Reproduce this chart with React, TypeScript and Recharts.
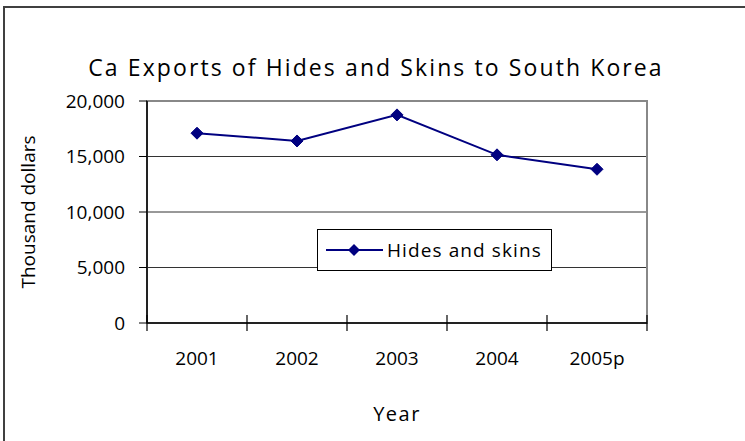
import React from "react";
import {
  LineChart,
  Line,
  XAxis,
  YAxis,
  CartesianGrid,
  ReferenceArea,
  Legend,
  Label,
} from "recharts";

const years = ["2001", "2002", "2003", "2004", "2005p"];
const hidesAndSkins = [17100, 16400, 18750, 15150, 13850];
const yTicks = [0, 5000, 10000, 15000, 20000];

const data = years.map((year, i) => ({ year, value: hidesAndSkins[i] }));

const FONT = "'Open Sans', 'DejaVu Sans', sans-serif";
const NAVY = "#000080";
const X_TICK_MARGIN = 29;
const CROSS = 8;

const Diamond = (props: any) => {
  const { cx, cy } = props;
  if (cx == null || cy == null) return null;
  const r = 6;
  return (
    <path
      d={`M${cx},${cy - r}L${cx + r},${cy}L${cx},${cy + r}L${cx - r},${cy}Z`}
      fill={NAVY}
      stroke={NAVY}
    />
  );
};

// Category label centred in its band, plus Excel-style tick marks that
// cross the axis line at the band boundaries.
const renderYearTick = (props: any) => {
  const { x, y, payload, index, visibleTicksCount } = props;
  const half = payload.offset ?? 0;
  const axisY = y - X_TICK_MARGIN;
  const left = payload.coordinate - half;
  const right = payload.coordinate + half;
  const isLast = index === (visibleTicksCount ?? years.length) - 1;
  return (
    <g key={`yt-${payload.value}`}>
      <line x1={left} x2={left} y1={axisY - CROSS} y2={axisY + CROSS} stroke="#000" strokeWidth={1.2} />
      {isLast && (
        <line x1={right} x2={right} y1={axisY - CROSS} y2={axisY + CROSS} stroke="#000" strokeWidth={1.2} />
      )}
      <text
        x={x}
        y={y}
        dy="0.71em"
        textAnchor="middle"
        fill="#000"
        fontSize={19}
        fontFamily={FONT}
      >
        {payload.value}
      </text>
    </g>
  );
};

const LegendBox = (props: any) => {
  const { payload } = props;
  return (
    <div
      style={{
        boxSizing: "border-box",
        width: 235,
        height: 42,
        border: "1px solid #000",
        background: "#fff",
        display: "flex",
        alignItems: "center",
        fontFamily: FONT,
        fontSize: 19,
        color: "#000",
      }}
    >
      {(payload || []).map((entry: any) => (
        <div key={entry.value} style={{ display: "flex", alignItems: "center" }}>
          <svg width={61} height={20} style={{ marginLeft: 8 }}>
            <line x1={0} x2={57} y1={10} y2={10} stroke={NAVY} strokeWidth={2} />
            <path d="M28,4L34,10L28,16L22,10Z" fill={NAVY} />
          </svg>
          <span style={{ letterSpacing: 1.1 }}>{entry.value}</span>
        </div>
      ))}
    </div>
  );
};

export default function App() {
  return (
    <div
      style={{
        position: "absolute",
        left: 0,
        top: 0,
        width: 745,
        height: 441,
        overflow: "hidden",
        background: "#fff",
      }}
    >
      <div
        style={{
          position: "absolute",
          left: 3,
          top: 6,
          width: 800,
          height: 500,
          borderTop: "2px solid #404040",
          borderLeft: "2px solid #404040",
        }}
      />
      <div
        style={{
          position: "absolute",
          left: 0,
          top: 51,
          width: 752,
          textAlign: "center",
          fontFamily: FONT,
          fontSize: 23,
          letterSpacing: 2.1,
          color: "#000",
        }}
      >
        Ca Exports of Hides and Skins to South Korea
      </div>
      <LineChart
        width={745}
        height={441}
        data={data}
        margin={{ top: 101, right: 98, bottom: 18, left: 17 }}
        style={{ position: "absolute", left: 0, top: 0 }}
      >
        <CartesianGrid
          xAxisId="cat"
          yAxisId="v"
          vertical={false}
          stroke="#333"
          strokeWidth={1}
        />
        <ReferenceArea
          xAxisId="cat"
          yAxisId="v"
          y1={0}
          y2={20000}
          fill="none"
          stroke="#888"
          strokeWidth={2}
          ifOverflow="visible"
        />
        <XAxis
          xAxisId="cat"
          dataKey="year"
          scale="band"
          height={100}
          axisLine={{ stroke: "#000", strokeWidth: 1.5 }}
          tickLine={false}
          tickSize={0}
          tickMargin={X_TICK_MARGIN}
          interval={0}
          tick={renderYearTick}
        >
          <Label
            value="Year"
            position="insideBottom"
            offset={2}
            style={{ fill: "#000", fontSize: 20, fontFamily: FONT, letterSpacing: 1.5 }}
          />
        </XAxis>
        <YAxis
          yAxisId="v"
          width={130}
          domain={[0, 20000]}
          ticks={yTicks}
          interval={0}
          tickSize={8}
          tickMargin={14}
          axisLine={{ stroke: "#000", strokeWidth: 1.5 }}
          tickLine={{ stroke: "#000" }}
          tickFormatter={(v: number) => v.toLocaleString("en-US")}
          tick={{ fill: "#000", fontSize: 19, fontFamily: FONT }}
        >
          <Label
            value="Thousand dollars"
            angle={-90}
            position="insideLeft"
            offset={11}
            style={{ textAnchor: "middle", fill: "#000", fontSize: 19, fontFamily: FONT }}
          />
        </YAxis>
        <Legend
          layout="horizontal"
          verticalAlign="middle"
          align="center"
          content={<LegendBox />}
          wrapperStyle={{ position: "absolute", left: 317, top: 229, width: 235, height: 42 }}
        />
        <Line
          xAxisId="cat"
          yAxisId="v"
          dataKey="value"
          name="Hides and skins"
          stroke={NAVY}
          strokeWidth={2}
          dot={<Diamond />}
          activeDot={false}
          isAnimationActive={false}
        />
      </LineChart>
    </div>
  );
}
